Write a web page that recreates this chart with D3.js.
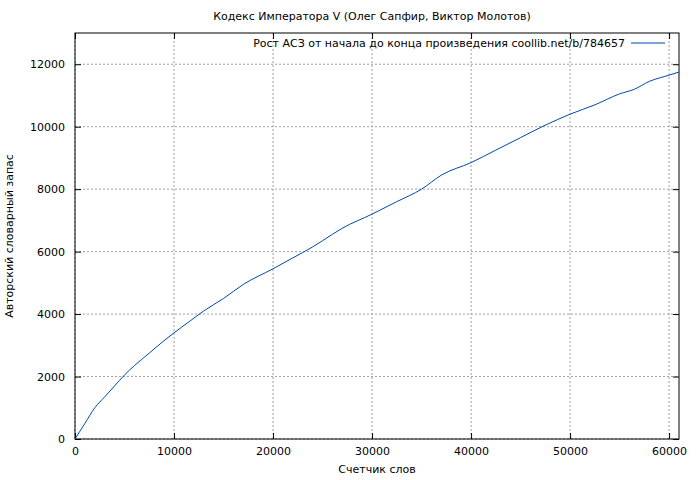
<!DOCTYPE html><html><head><meta charset="utf-8">
<script src="https://cdn.jsdelivr.net/npm/d3@7"></script>
<style>body{margin:0;background:#fff}text{font-family:"DejaVu Sans",sans-serif;font-size:11px;fill:#000}</style>
</head><body><svg id="c" width="700" height="480"></svg>
<script>
const xs=[0,500,1000,2000,3000,4000,5000,6000,7500,9000,10000,11500,13000,15000,17000,20000,22000,24000,25000,27000,30000,32500,35000,37000,40000,42500,45000,47500,50000,52500,55000,56500,58000,60000,61000];
const ys=[0,250,500,1000,1350,1700,2050,2350,2750,3150,3400,3750,4100,4500,4950,5450,5800,6150,6350,6750,7200,7600,8000,8450,8850,9250,9650,10050,10400,10700,11050,11200,11450,11650,11750];
const xTicks=[0,10000,20000,30000,40000,50000,60000];
const yTicks=[0,2000,4000,6000,8000,10000,12000];
const title="Кодекс Императора V (Олег Сапфир, Виктор Молотов)";
const legend="Рост АСЗ от начала до конца произведения coollib.net/b/784657";
const svg=d3.select("#c");
const L=75,R=679,T=33,B=439;
const x=d3.scaleLinear().domain([0,61000]).range([L,R]);
const y=d3.scaleLinear().domain([0,13000]).range([B,T]);
const g=svg.append("g");
xTicks.forEach(t=>{g.append("line").attr("x1",x(t)).attr("x2",x(t)).attr("y1",T).attr("y2",B).attr("stroke","#a0a0a0").attr("stroke-dasharray","2,2");});
yTicks.forEach(t=>{g.append("line").attr("x1",L).attr("x2",R).attr("y1",y(t)).attr("y2",y(t)).attr("stroke","#a0a0a0").attr("stroke-dasharray","2,2");});
const xa=svg.append("g").attr("transform",`translate(0,${B})`).call(d3.axisBottom(x).tickValues(xTicks).tickFormat(d3.format("d")).tickSizeInner(-6).tickSizeOuter(0).tickPadding(8));
const ya=svg.append("g").attr("transform",`translate(${L},0)`).call(d3.axisLeft(y).tickValues(yTicks).tickFormat(d3.format("d")).tickSizeInner(-6).tickSizeOuter(0).tickPadding(10));
[xa,ya].forEach(a=>{a.select(".domain").remove();a.selectAll("text").style("font-family","DejaVu Sans").style("font-size","11px");});
svg.append("g").attr("transform",`translate(0,${T})`).call(d3.axisTop(x).tickValues(xTicks).tickFormat("").tickSizeInner(-6).tickSizeOuter(0)).select(".domain").remove();
svg.append("g").attr("transform",`translate(${R},0)`).call(d3.axisRight(y).tickValues(yTicks).tickFormat("").tickSizeInner(-6).tickSizeOuter(0)).select(".domain").remove();
svg.append("rect").attr("x",L).attr("y",T).attr("width",R-L).attr("height",B-T).attr("fill","none").attr("stroke","#000");
svg.append("path").datum(xs.map((v,i)=>[v,ys[i]])).attr("fill","none").attr("stroke","#0047ab").attr("stroke-width",1)
 .attr("d",d3.line().x(d=>x(d[0])).y(d=>y(d[1])).curve(d3.curveMonotoneX));
svg.append("text").attr("x",372).attr("y",20).attr("text-anchor","middle").text(title);
svg.append("text").attr("x",625).attr("y",47).attr("text-anchor","end").text(legend);
svg.append("line").attr("x1",631).attr("x2",665).attr("y1",43).attr("y2",43).attr("stroke","#0047ab");
svg.append("text").attr("x",377).attr("y",473).attr("text-anchor","middle").text("Счетчик слов");
svg.append("text").attr("transform","translate(13,236) rotate(-90)").attr("text-anchor","middle").text("Авторский словарный запас");
</script></body></html>
